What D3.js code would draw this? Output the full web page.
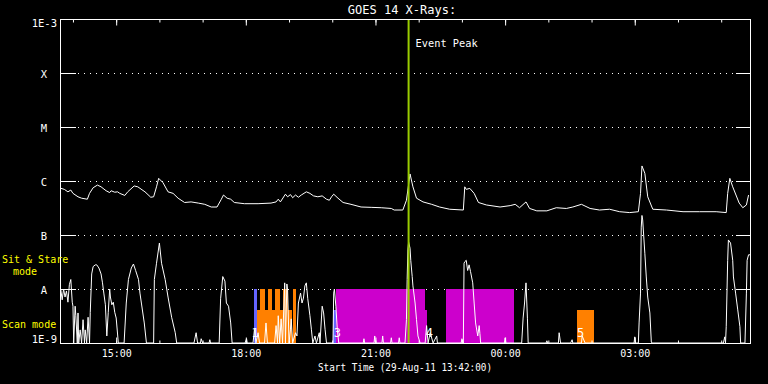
<!DOCTYPE html>
<html>
<head>
<meta charset="utf-8">
<script src="https://cdn.jsdelivr.net/npm/d3@7"></script>
<style>
html, body { margin: 0; padding: 0; background: #000; }
svg { display: block; }
text { font-family: "DejaVu Sans Mono", monospace; fill: #fff; }
</style>
</head>
<body>
<div id="chart"></div>
<script>
// GOES 14 long channel (1-8 A), W/m^2
const longTimes = ["13:42","13:48","13:53","13:57","14:00","14:07","14:12","14:20","14:23","14:28","14:34","14:39","14:46","14:51","14:53","14:58",
  "15:02","15:05","15:12","15:16","15:25","15:30","15:40","15:48","15:52","15:56","15:59","16:05","16:12","16:19","16:26","16:35","16:44","16:54",
  "17:03","17:12","17:20","17:26","17:29","17:34","17:39","17:44","17:58","18:17","18:35","18:42","18:45","18:48","18:55","18:58",
  "19:02","19:05","19:09","19:13","19:17","19:24","19:29","19:34","19:40","19:46","19:52","19:56","19:59","20:02","20:08","20:15","20:26","20:40","20:54",
  "21:08","21:22","21:26","21:38","21:43","21:48","21:52","21:57","22:06","22:18","22:29","22:43","23:02","23:04","23:06","23:11","23:17","23:23","23:34","23:53",
  "00:07","00:14","00:20","00:29","00:34","00:44","00:58","01:11","01:25","01:34","01:46","01:58","02:11","02:25","02:39","02:53",
  "03:05","03:08","03:10","03:14","03:18","03:25","03:44","04:07","04:30","04:53","05:07","05:09","05:12","05:16","05:25","05:30","05:35","05:38"];
const longFlux = [7.4e-7,7.0e-7,6.3e-7,6.8e-7,5.9e-7,5.1e-7,4.8e-7,4.6e-7,5.9e-7,7.5e-7,8.4e-7,7.8e-7,6.6e-7,6.1e-7,6.6e-7,6.2e-7,
  6.3e-7,5.9e-7,5.4e-7,6.3e-7,8.1e-7,7.8e-7,6.3e-7,5.0e-7,5.1e-7,7.8e-7,1.12e-6,9.3e-7,6.3e-7,5.9e-7,4.8e-7,4.0e-7,4.1e-7,3.9e-7,
  3.7e-7,3.3e-7,3.3e-7,4.6e-7,5.5e-7,4.8e-7,4.6e-7,4.0e-7,3.8e-7,3.8e-7,3.9e-7,4.1e-7,4.6e-7,4.1e-7,5.7e-7,5.1e-7,
  5.6e-7,4.9e-7,5.5e-7,5.0e-7,5.5e-7,6.3e-7,5.9e-7,5.3e-7,5.1e-7,5.3e-7,4.6e-7,4.4e-7,5.1e-7,5.7e-7,4.8e-7,4.0e-7,3.7e-7,3.3e-7,3.25e-7,
  3.2e-7,3.1e-7,2.9e-7,2.9e-7,4.4e-7,1.35e-6,7.8e-7,4.8e-7,4.1e-7,3.7e-7,3.3e-7,3.0e-7,2.9e-7,7.8e-7,7.0e-7,7.3e-7,5.9e-7,4.0e-7,3.6e-7,3.3e-7,
  3.5e-7,3.7e-7,3.2e-7,4.1e-7,3.1e-7,2.8e-7,2.8e-7,3.2e-7,3.1e-7,3.3e-7,3.7e-7,3.1e-7,2.9e-7,3.0e-7,2.7e-7,2.6e-7,
  2.7e-7,5.9e-7,1.9e-6,1.39e-6,5.1e-7,3.0e-7,2.9e-7,2.7e-7,2.7e-7,2.7e-7,2.6e-7,5.9e-7,1.12e-6,7.8e-7,3.9e-7,3.2e-7,3.6e-7,5.5e-7];

// GOES 14 short channel (0.5-4 A), W/m^2 (1e-9 = off scale)
const shortTimes = ["13:43","13:45","13:47","13:49","13:51","13:53","13:55","13:57","13:59","14:00","14:01","14:03","14:04","14:06","14:07","14:08","14:10","14:12",
  "14:14","14:16","14:17","14:19","14:21","14:23","14:24","14:26","14:28","14:31","14:33","14:36","14:39","14:41","14:43","14:45","14:47","14:49","14:51","14:52",
  "14:54","14:56","14:58","15:00","15:03","15:11","15:14","15:17","15:21","15:24","15:27","15:31","15:33","15:35","15:39","15:42","15:52","15:53","15:56","16:00",
  "16:03","16:08","16:12","16:17","16:22","16:24","16:48","16:51","16:53","16:57","16:58","17:00","17:09","17:10","17:11","17:23","17:25","17:28","17:31","17:33",
  "17:36","17:39","17:41","17:59","18:01","18:02","18:10","18:12","18:14","18:17","18:19","18:26","18:28","18:30","18:40","18:42","18:44","18:45","18:47","18:49",
  "18:51","18:54","18:55","18:57","18:58","19:00","19:02","19:03","19:05","19:09","19:11","19:13","19:16","19:18","19:20","19:22","19:24","19:26","19:29","19:31",
  "19:33","19:36","19:38","19:42","19:43","19:46","19:48","19:50","19:52","20:01","20:02","20:03","20:05","20:07","20:09","20:43","20:44","20:45","20:58","20:59",
  "21:00","21:09","21:10","21:11","21:21","21:22","21:23","21:32","21:33","21:34","21:41","21:43","21:44","21:45","21:46","21:48","21:49","21:51","21:52","21:55",
  "21:57","21:59","22:02","22:09","22:11","22:13","22:16","22:20","22:25","22:26","22:59","23:00","23:02","23:03","23:04","23:06","23:08","23:10","23:12","23:15",
  "23:17","23:19","23:22","23:24","23:25","23:26","23:59","00:00","00:01","00:23","00:25","00:27","00:29","00:31","00:32","00:57","00:58","00:59","01:14","01:15",
  "01:17","01:31","01:33","01:34","01:46","01:47","01:51","02:59","03:00","03:01","03:05","03:06","03:08","03:09","03:10","03:11","03:14","03:16","03:18","03:21",
  "03:23","03:24","05:03","05:05","05:06","05:07","05:09","05:10","05:13","05:16","05:17","05:20","05:23","05:26","05:27","05:33","05:35","05:36","05:38","05:40"];
const shortFlux = [1e-8,6.3e-9,1e-8,7.1e-9,9.2e-9,5.7e-9,1.2e-8,1.5e-8,5.7e-9,4.8e-9,1e-9,4.8e-9,3.2e-9,1e-9,3.6e-9,1e-9,1.75e-9,1e-9,
  2.7e-9,1e-9,1.75e-9,1e-9,3.0e-9,1e-9,3.7e-9,1.9e-8,2.6e-8,2.8e-8,2.8e-8,2.45e-8,1.9e-8,1.3e-8,8.1e-9,5.1e-9,1.35e-9,3.7e-9,1e-8,7.1e-9,
  5.1e-9,5.7e-9,3.7e-9,2.9e-9,1e-9,1e-9,5.5e-9,1.5e-8,2.45e-8,2.9e-8,2.2e-8,1.5e-8,8.4e-9,5.5e-9,2.35e-9,1e-9,1e-9,1.5e-8,3.0e-8,7.1e-8,
  3.0e-8,1.5e-8,7.1e-9,3.0e-9,1.55e-9,1e-9,1e-9,1.55e-9,1e-9,1e-9,1.2e-9,1e-9,1e-9,1.15e-9,1e-9,1e-9,6.6e-9,1.7e-8,1.4e-8,5.5e-9,
  4.8e-9,2.35e-9,1e-9,1e-9,1.2e-9,1e-9,1e-9,1.8e-9,1e-9,1.55e-9,1e-9,1e-9,2.35e-9,1e-9,1e-9,2.1e-9,1e-9,3.2e-9,1e-9,2.8e-9,
  1e-9,1.3e-8,1e-9,1.24e-8,9.6e-9,1e-9,1.8e-9,2.8e-9,1e-9,1.55e-9,1.35e-9,5.5e-9,8.4e-9,5.5e-9,6.8e-9,1.14e-8,1.3e-8,6.6e-9,3.2e-9,1.8e-9,
  1e-9,1.35e-9,1e-9,1.55e-9,1e-9,4.8e-9,3.6e-9,1.8e-9,1e-9,1e-9,8.4e-9,1e-8,4.8e-9,1.8e-9,1e-9,1e-9,1.2e-9,1e-9,1e-9,1.35e-9,
  1e-9,1e-9,1.35e-9,1e-9,1e-9,1.25e-9,1e-9,1e-9,1.25e-9,1e-9,1e-9,2.7e-9,1.5e-8,5.3e-8,7.4e-8,5.7e-8,3.4e-8,1.7e-8,1.14e-8,5.5e-9,
  2.7e-9,1.35e-9,1e-9,1e-9,2.1e-9,1e-9,1.55e-9,1e-9,1.35e-9,1e-9,1e-9,1.2e-9,1e-9,3.0e-8,3.2e-8,3.4e-8,2.2e-8,2.8e-8,2.1e-8,1.3e-8,
  5.5e-9,2.35e-9,1.35e-9,2.1e-9,1.5e-9,1e-9,1e-9,1.25e-9,1e-9,1e-9,2.9e-9,5.5e-9,1.3e-8,2.8e-9,1e-9,1e-9,1.1e-9,1e-9,1e-9,1.55e-9,
  1e-9,1e-9,1.15e-9,1e-9,1e-9,1.35e-9,1e-9,1e-9,1.3e-9,1e-9,1e-9,2.35e-9,8.4e-9,1.4e-7,2.3e-7,1.9e-7,4.6e-8,1.67e-8,7.1e-9,3.6e-9,
  1.04e-9,1e-9,1e-9,1.3e-9,1e-9,2.0e-9,3.4e-8,8.1e-8,7.1e-8,3.4e-8,1.67e-8,8.4e-9,4.1e-9,2.0e-9,1e-9,1e-9,8.4e-9,3.4e-8,4.3e-8,4.3e-8];

// observation blocks: program and mode
const obsStart = ["18:11","18:16","18:20","18:31","18:41","18:52","19:06","20:01","20:05","22:09","22:38","01:40"];
const obsEnd   = ["18:16","19:04","18:26","18:37","18:47","18:58","19:10","20:05","22:09","22:12","00:13","02:03"];
const obsProg  = ["p1","p2","p2","p2","p2","p2","p2","p1","p3","p3","p3","p2"];
const obsMode  = ["sit","scan","sit","sit","sit","sit","sit","scan","sit","scan","sit","scan"];
const modeTop  = { sit: 1e-8, scan: 4.1e-9 };

const numText  = ["1","3","4","5"];
const numTimes = ["18:13","20:07","22:15","01:45"];

const levelValues = [1e-3, 1e-4, 1e-5, 1e-6, 1e-7, 1e-8, 1e-9];
const levelLabels = ["1E-3", "X", "M", "C", "B", "A", "1E-9"];

const eventPeak = "21:46";
const startTime = "13:42";
const endTime = "05:40";

// styles
const progColor = { p1: "#6464ff", p2: "#ff8000", p3: "#cc00cc" };

const W = 768, H = 384;
const pL = 60, pR = 750, pT = 19, pB = 343;

function toDate(s) {
  const h = +s.slice(0, 2), m = +s.slice(3, 5);
  return h < 12 ? new Date(2011, 7, 30, h, m) : new Date(2011, 7, 29, h, m);
}

const svg = d3.select("#chart").append("svg")
  .attr("width", W)
  .attr("height", H)
  .style("background-color", "#000");

const x = d3.scaleTime()
  .domain([toDate(startTime), toDate(endTime)])
  .range([pL, pR]);
const y = d3.scaleLog()
  .domain([1e-9, 1e-3])
  .range([pB, pT])
  .clamp(true);

// dotted level lines
svg.append("g").selectAll("line")
  .data(levelValues.slice(1, 6))
  .enter().append("line")
  .attr("x1", pL + 18).attr("x2", pR - 15)
  .attr("y1", d => Math.round(y(d)) + 0.5)
  .attr("y2", d => Math.round(y(d)) + 0.5)
  .attr("stroke", "#fff")
  .attr("stroke-dasharray", "1,5")
  .attr("shape-rendering", "crispEdges");

// observation blocks
svg.append("g").selectAll("rect")
  .data(obsStart.map((s, i) => ({ s: toDate(s), e: toDate(obsEnd[i]), p: obsProg[i], m: obsMode[i] })))
  .enter().append("rect")
  .attr("x", d => x(d.s))
  .attr("width", d => x(d.e) - x(d.s))
  .attr("y", d => y(modeTop[d.m]))
  .attr("height", d => pB - y(modeTop[d.m]))
  .attr("fill", d => progColor[d.p])
  .attr("shape-rendering", "crispEdges");

// data lines
const line = d3.line().x(d => x(d.t)).y(d => y(d.v));
const longData = longTimes.map((t, i) => ({ t: toDate(t), v: longFlux[i] }));
const shortData = shortTimes.map((t, i) => ({ t: toDate(t), v: shortFlux[i] }));
[longData, shortData].forEach(dd => {
  svg.append("path")
    .datum(dd)
    .attr("d", line)
    .attr("fill", "none")
    .attr("stroke", "#fff")
    .attr("stroke-width", 1);
});

// observation numbers
svg.append("g").selectAll("text")
  .data(numText)
  .enter().append("text")
  .attr("x", (d, i) => x(toDate(numTimes[i])))
  .attr("y", 337)
  .attr("text-anchor", "middle")
  .style("font-size", "12px")
  .text(d => d);

// event peak
svg.append("line")
  .attr("x1", x(toDate(eventPeak))).attr("x2", x(toDate(eventPeak)))
  .attr("y1", pT).attr("y2", pB)
  .attr("stroke", "#99cc00")
  .attr("stroke-width", 2);
svg.append("text")
  .attr("x", x(toDate(eventPeak)) + 7)
  .attr("y", 47)
  .style("font-size", "10.3px")
  .text("Event Peak");

// frame
svg.append("rect")
  .attr("x", pL + 0.5).attr("y", pT + 0.5)
  .attr("width", pR - pL).attr("height", pB - pT)
  .attr("fill", "none")
  .attr("stroke", "#fff")
  .attr("shape-rendering", "crispEdges");

// time ticks top and bottom
const hours = d3.timeHour.every(1).range(toDate(startTime), toDate(endTime));
const major = d3.timeHour.every(3).range(toDate(startTime), toDate(endTime));
[[d3.axisBottom, pT, hours, 3], [d3.axisBottom, pT, major, 6], [d3.axisTop, pB, hours, 3], [d3.axisTop, pB, major, 6]]
  .forEach(([ax, yy, vals, len]) => {
    const g = svg.append("g")
      .attr("transform", `translate(0,${yy + 0.5})`)
      .call(ax(x).tickValues(vals).tickSize(len).tickFormat(""));
    g.select(".domain").remove();
    g.selectAll("line").attr("stroke", "#fff");
  });

// time labels
const xl = svg.append("g")
  .attr("transform", `translate(0,${pB})`)
  .call(d3.axisBottom(x).tickValues(major).tickSize(0).tickPadding(7).tickFormat(d3.timeFormat("%H:%M")));
xl.select(".domain").remove();
xl.selectAll("text").attr("fill", "#fff").style("font-size", "10px").style("font-family", "DejaVu Sans Mono");

// level ticks left and right
[[d3.axisRight, pL], [d3.axisLeft, pR]].forEach(([ax, xx]) => {
  const g = svg.append("g")
    .attr("transform", `translate(${xx + 0.5},0)`)
    .call(ax(y).tickValues(levelValues.slice(1, 6)).tickSize(15).tickFormat(""));
  g.select(".domain").remove();
  g.selectAll("line").attr("stroke", "#fff").attr("shape-rendering", "crispEdges");
});

// level labels
svg.append("g").selectAll("text")
  .data(levelLabels)
  .enter().append("text")
  .attr("x", (d, i) => (i === 0 || i === 6) ? 57 : 44)
  .attr("y", (d, i) => i === 0 ? pT + 8 : i === 6 ? pB : y(levelValues[i]) + 4.5)
  .attr("text-anchor", (d, i) => (i === 0 || i === 6) ? "end" : "middle")
  .style("font-size", "10.5px")
  .text(d => d);

// mode labels
const modeLab = svg.append("g").style("font-size", "10px").style("fill", "#ffff00");
modeLab.append("text").attr("x", 2).attr("y", 263).style("fill", "#ffff00").text("Sit & Stare");
modeLab.append("text").attr("x", 13).attr("y", 275).style("fill", "#ffff00").text("mode");
modeLab.append("text").attr("x", 2).attr("y", 328).style("fill", "#ffff00").text("Scan mode");

// titles
svg.append("text")
  .attr("x", (pL + pR) / 2 - 3).attr("y", 14)
  .attr("text-anchor", "middle")
  .style("font-size", "12px")
  .text("GOES 14 X-Rays:");
svg.append("text")
  .attr("x", 318).attr("y", 371)
  .attr("textLength", 174).attr("lengthAdjust", "spacingAndGlyphs")
  .style("font-size", "10px")
  .text("Start Time (29-Aug-11 13:42:00)");
</script>
</body>
</html>
